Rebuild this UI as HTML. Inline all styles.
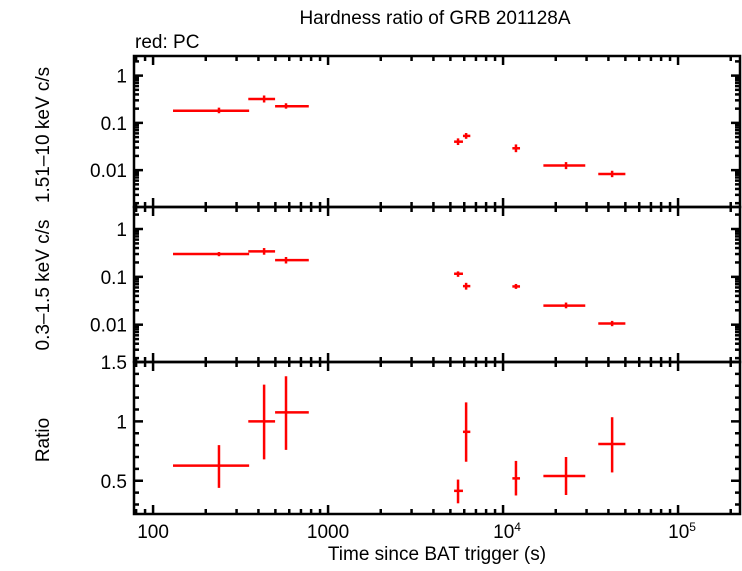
<!DOCTYPE html>
<html><head><meta charset="utf-8"><style>
body{margin:0;background:#fff}
svg text{font-family:"Liberation Sans",sans-serif;font-size:19px;fill:#000}
</style></head><body>
<svg id="c" width="742" height="566" xmlns="http://www.w3.org/2000/svg">
<text x="435" y="24" text-anchor="middle">Hardness ratio of GRB 201128A</text>
<text x="135" y="48">red: PC</text>
<text transform="translate(49,135) rotate(-90)" text-anchor="middle">1.51–10 keV c/s</text>
<text transform="translate(49,285) rotate(-90)" text-anchor="middle">0.3–1.5 keV c/s</text>
<text transform="translate(49,440) rotate(-90)" text-anchor="middle">Ratio</text>
<text x="437" y="560" text-anchor="middle">Time since BAT trigger (s)</text>
<g id="g"></g>
</svg>
<script>
const times=[238,431,575,5530,6150,11850,22900,42000];
const tLo=[130,350,498,5250,5900,11300,17000,35000];
const tHi=[354,498,776,5900,6500,12500,29500,50000];
const hard=[0.18,0.32,0.225,0.040,0.053,0.029,0.0125,0.0083];
const hardLo=[0.16,0.27,0.2,0.034,0.046,0.024,0.0105,0.0071];
const hardHi=[0.21,0.38,0.26,0.047,0.061,0.035,0.0148,0.0097];
const soft=[0.30,0.34,0.224,0.116,0.064,0.063,0.025,0.0106];
const softLo=[0.27,0.29,0.19,0.1,0.054,0.056,0.022,0.0093];
const softHi=[0.33,0.4,0.26,0.13,0.075,0.071,0.029,0.012];
const ratio=[0.627,1.0,1.076,0.415,0.912,0.52,0.54,0.81];
const ratioLo=[0.44,0.68,0.76,0.31,0.66,0.376,0.38,0.57];
const ratioHi=[0.80,1.31,1.38,0.51,1.16,0.667,0.70,1.035];
const xTickBase=["100","1000","10","10"];
const xTickSup=["","","4","5"];
const logTicks=["0.01","0.1","1"];
const ratioTicks=["0.5","1","1.5"];

const L=134,R=740,lx0=1.891,lx1=5.354;
const X=v=>L+(Math.log10(v)-lx0)/(lx1-lx0)*(R-L);
const panels=[{t:56,b:207,lo:-2.78,hi:0.415,log:true},{t:207,b:362,lo:-2.78,hi:0.46,log:true},{t:362,b:514,lo:0.22,hi:1.5,log:false}];
const Y=(p,v)=>p.log? p.b-(Math.log10(v)-p.lo)/(p.hi-p.lo)*(p.b-p.t) : p.b-(v-p.lo)/(p.hi-p.lo)*(p.b-p.t);
const g=document.getElementById('g');
const NS='http://www.w3.org/2000/svg';
function ln(x1,y1,x2,y2,c,w){const e=document.createElementNS(NS,'line');e.setAttribute('x1',x1);e.setAttribute('y1',y1);e.setAttribute('x2',x2);e.setAttribute('y2',y2);e.setAttribute('stroke',c);e.setAttribute('stroke-width',w);g.appendChild(e);return e;}
function tx(x,y,s,a){const e=document.createElementNS(NS,'text');e.setAttribute('x',x);e.setAttribute('y',y);e.setAttribute('text-anchor',a);e.textContent=s;g.appendChild(e);return e;}
const series=[[hard,hardLo,hardHi],[soft,softLo,softHi],[ratio,ratioLo,ratioHi]];
panels.forEach((p,pi)=>{
  for(let d=1;d<=5;d++)for(let m=1;m<10;m++){const v=m*Math.pow(10,d);const x=X(v);if(x<L||x>R)continue;const len=m===1?9:5;
    const a=ln(x,p.t,x,p.t+len,'#000',2.5);
    const b=ln(x,p.b,x,p.b-len,'#000',2.5);}
  if(p.log){for(let d=-3;d<=0;d++)for(let m=1;m<10;m++){const v=m*Math.pow(10,d);const y=Y(p,v);if(y<p.t||y>p.b)continue;const len=m===1?9:5;
      const a=ln(L,y,L+len,y,'#000',2.5);
      const b=ln(R,y,R-len,y,'#000',2.5);}
    logTicks.forEach(s=>{const e=tx(127,Y(p,parseFloat(s))+7,s,'end');});
  }else{for(let k=3;k<=15;k++){const v=k/10;const y=Y(p,v);if(y<p.t-1||y>p.b)continue;const len=k%5===0?9:5;
      const a=ln(L,y,L+len,y,'#000',2.5);
      const b=ln(R,y,R-len,y,'#000',2.5);}
    ratioTicks.forEach(s=>{const e=tx(127,Y(p,parseFloat(s))+7,s,'end');});
  }
  const fr=document.createElementNS(NS,'rect');fr.setAttribute('x',L);fr.setAttribute('y',p.t);fr.setAttribute('width',R-L);fr.setAttribute('height',p.b-p.t);fr.setAttribute('fill','none');fr.setAttribute('stroke','#000');fr.setAttribute('stroke-width',2.5);
  
  
  g.appendChild(fr);
  const [v,lo,hi]=series[pi];
  times.forEach((t,i)=>{
    const y=Y(p,v[i]);
    const h=ln(X(tLo[i]),y,X(tHi[i]),y,'#f00',2.5);
    
    
    const vv=ln(X(t),Y(p,hi[i]),X(t),Y(p,lo[i]),'#f00',2.5);
    
    
  });
});
[100,1000,1e4,1e5].forEach((v,i)=>{
  const e=tx(X(v)+(xTickSup[i]?4:0),538,xTickBase[i],'middle');
  
  
  if(xTickSup[i]){const s=document.createElementNS(NS,'tspan');s.setAttribute('dy','-7');s.setAttribute('font-size','12');s.textContent=xTickSup[i];e.appendChild(s);}
});
</script>
</body></html>
